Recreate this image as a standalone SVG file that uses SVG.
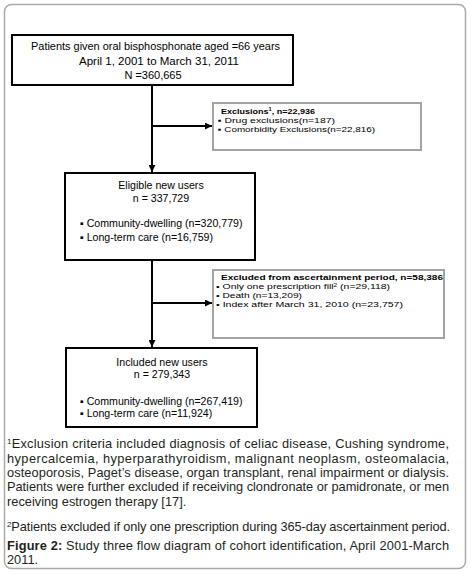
<svg xmlns="http://www.w3.org/2000/svg" width="471" height="574" viewBox="0 0 471 574">
<defs>
<marker id="ah" viewBox="0 0 10 10" refX="10" refY="5" markerWidth="7" markerHeight="7" markerUnits="userSpaceOnUse" orient="auto">
<path d="M0,0 L10,5 L0,10 z" fill="#000"/>
</marker>
<style>
.box{fill:#fff;stroke:#000;stroke-width:2}
.xbox{fill:#fff;stroke:#a3a3a3;stroke-width:2}
.t{font-family:"Liberation Sans",Arial,sans-serif;font-size:10.6px;fill:#000}
.h{font-size:11px}
.s{font-family:"Liberation Sans",Arial,sans-serif;font-size:8px;fill:#000}
.b{font-weight:bold}
.c{font-family:"Liberation Sans",Arial,sans-serif;font-size:12.8px;fill:#231f20}
.ln{stroke:#000;stroke-width:2;fill:none}
</style>
</defs>
<rect x="4.5" y="4.5" width="461" height="564" rx="7" fill="#fff" stroke="#aaaaaa" stroke-width="1.5"/>

<g id="connectors">
<path class="ln" d="M152,85 V172" marker-end="url(#ah)"/>
<path class="ln" d="M152,126 H212" marker-end="url(#ah)"/>
<path class="ln" d="M152,260 V347" marker-end="url(#ah)"/>
<path class="ln" d="M152,303 H212" marker-end="url(#ah)"/>
</g>

<g id="n-start">
<rect class="box" x="12" y="35" width="281" height="50"/>
<text class="t h" x="155.5" y="50" text-anchor="middle" textLength="249" lengthAdjust="spacingAndGlyphs">Patients given oral bisphosphonate aged =66 years</text>
<text class="t h" x="159" y="64.5" text-anchor="middle" textLength="160" lengthAdjust="spacingAndGlyphs">April 1, 2001 to March 31, 2011</text>
<text class="t h" x="153" y="79" text-anchor="middle">N =360,665</text>
</g>

<g id="n-excl1">
<rect class="xbox" x="213" y="103" width="208" height="47"/>
<text class="s b" x="221" y="113.5" textLength="94" lengthAdjust="spacingAndGlyphs">Exclusions<tspan font-size="5" dy="-2.5">1</tspan><tspan dy="2.5">, n=22,936</tspan></text>
<text class="s" x="218" y="122.5" textLength="117" lengthAdjust="spacingAndGlyphs">▪ Drug exclusions(n=187)</text>
<text class="s" x="218" y="131.5" textLength="157" lengthAdjust="spacingAndGlyphs">▪ Comorbidity Exclusions(n=22,816)</text>
</g>

<g id="n-excl2">
<rect class="xbox" x="213" y="270" width="231" height="68"/>
<text class="s b" x="221" y="280" textLength="222" lengthAdjust="spacingAndGlyphs">Excluded from ascertainment period, n=58,386</text>
<text class="s" x="216" y="289" textLength="174" lengthAdjust="spacingAndGlyphs">• Only one prescription fill<tspan font-size="5" dy="-2.5">2</tspan><tspan dy="2.5"> (n=29,118)</tspan></text>
<text class="s" x="216" y="298" textLength="86" lengthAdjust="spacingAndGlyphs">• Death (n=13,209)</text>
<text class="s" x="216" y="307" textLength="187" lengthAdjust="spacingAndGlyphs">• Index after March 31, 2010 (n=23,757)</text>
</g>

<g id="n-eligible">
<rect class="box" x="65" y="173" width="190" height="87"/>
<text class="t" x="161" y="189" text-anchor="middle">Eligible new users</text>
<text class="t" x="161" y="202" text-anchor="middle">n = 337,729</text>
<text class="t" x="80" y="227">▪ Community-dwelling (n=320,779)</text>
<text class="t" x="80" y="241">▪ Long-term care (n=16,759)</text>
</g>

<g id="n-included">
<rect class="box" x="66" y="348" width="191" height="79"/>
<text class="t" x="162" y="366" text-anchor="middle">Included new users</text>
<text class="t" x="162" y="377.5" text-anchor="middle">n = 279,343</text>
<text class="t" x="80" y="405">▪ Community-dwelling (n=267,419)</text>
<text class="t" x="80" y="417">▪ Long-term care (n=11,924)</text>
</g>

<g id="caption">
<text class="c" x="7" y="448" textLength="442" lengthAdjust="spacing"><tspan font-size="8" dy="-4">1</tspan><tspan dy="4">Exclusion criteria included diagnosis of celiac disease, Cushing syndrome,</tspan></text>
<text class="c" x="7" y="462.5" textLength="442" lengthAdjust="spacing">hypercalcemia, hyperparathyroidism, malignant neoplasm, osteomalacia,</text>
<text class="c" x="7" y="477" textLength="442" lengthAdjust="spacing">osteoporosis, Paget’s disease, organ transplant, renal impairment or dialysis.</text>
<text class="c" x="7" y="491" textLength="442" lengthAdjust="spacing">Patients were further excluded if receiving clondronate or pamidronate, or men</text>
<text class="c" x="7" y="505.5">receiving estrogen therapy [17].</text>
<text class="c" x="7" y="531" textLength="443" lengthAdjust="spacing"><tspan font-size="8" dy="-4">2</tspan><tspan dy="4">Patients excluded if only one prescription during 365-day ascertainment period.</tspan></text>
<text class="c" x="7" y="549.5" textLength="442" lengthAdjust="spacing"><tspan font-weight="bold">Figure 2:</tspan> Study three flow diagram of cohort identification, April 2001-March</text>
<text class="c" x="7" y="563.5">2011.</text>
</g>
</svg>
